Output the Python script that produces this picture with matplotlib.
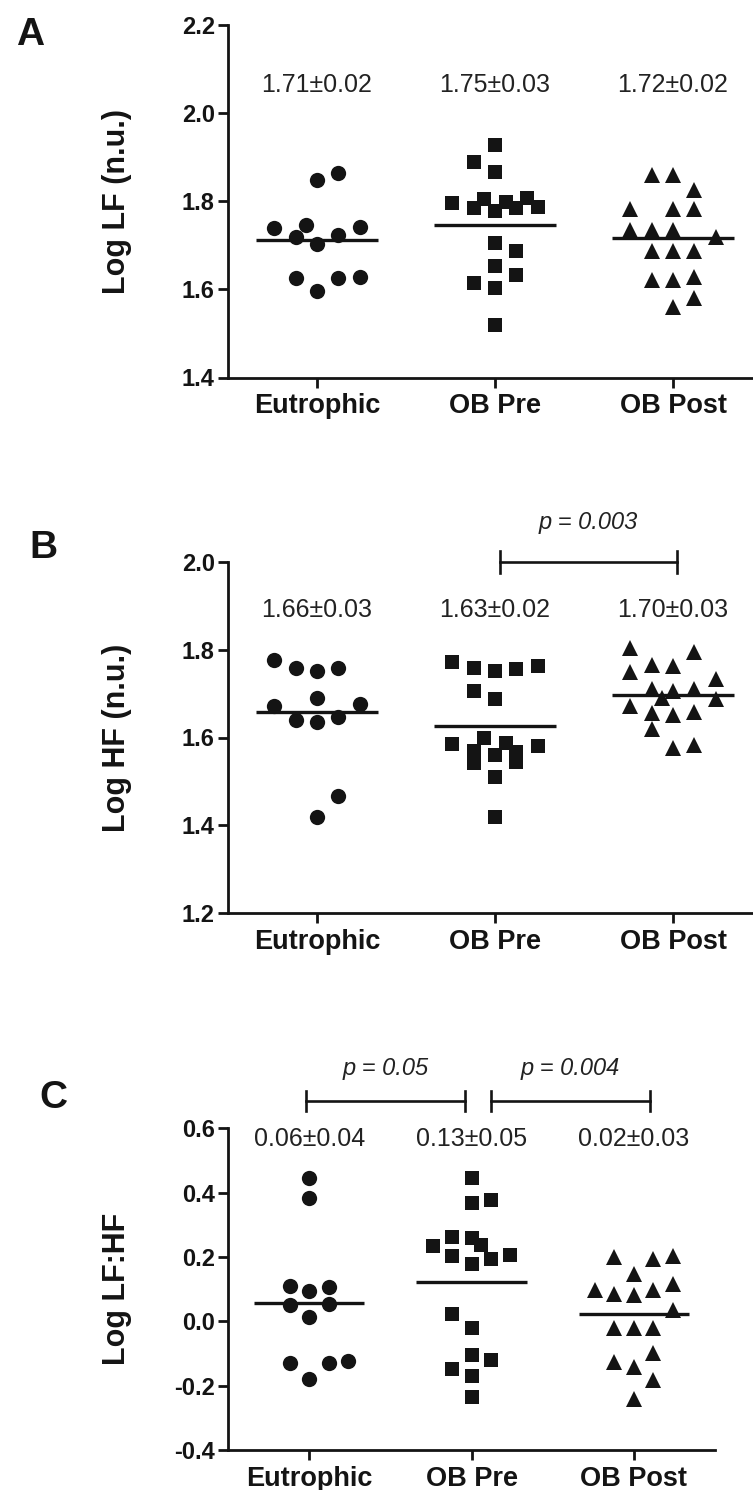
import numpy as np
import matplotlib
matplotlib.use("Agg")
import matplotlib.pyplot as plt

plt.rcParams['font.family'] = ['Liberation Sans', 'DejaVu Sans']

groups = ["Eutrophic", "OB Pre", "OB Post"]
markers = ["o", "s", "^"]

# Panel A : Log LF (n.u.)
lf_eut = [1.848, 1.863, 1.739, 1.745, 1.742, 1.720, 1.724, 1.702, 1.625, 1.625, 1.627, 1.597]
lf_eut_dx = [0, 0.12, -0.24, -0.06, 0.24, -0.12, 0.12, 0, -0.12, 0.12, 0.24, 0]
lf_pre = [1.928, 1.890, 1.867, 1.797, 1.785, 1.805, 1.778, 1.799, 1.785, 1.807, 1.788,
          1.705, 1.686, 1.654, 1.633, 1.615, 1.603, 1.519]
lf_pre_dx = [0, -0.12, 0, -0.24, -0.12, -0.06, 0, 0.06, 0.12, 0.18, 0.24,
             0, 0.12, 0, 0.12, -0.12, 0, 0]
lf_post = [1.860, 1.860, 1.826, 1.783, 1.783, 1.783, 1.735, 1.735, 1.735, 1.720,
           1.686, 1.686, 1.686, 1.622, 1.622, 1.629, 1.580, 1.561]
lf_post_dx = [-0.12, 0, 0.12, -0.24, 0, 0.12, -0.24, -0.12, 0, 0.24,
              -0.12, 0, 0.12, -0.12, 0, 0.12, 0.12, 0]
lf_labels = ["1.71\u00b10.02", "1.75\u00b10.03", "1.72\u00b10.02"]

# Panel B : Log HF (n.u.)
hf_eut = [1.776, 1.757, 1.751, 1.759, 1.691, 1.672, 1.676, 1.640, 1.636, 1.647, 1.467, 1.420]
hf_eut_dx = [-0.24, -0.12, 0, 0.12, 0, -0.24, 0.24, -0.12, 0, 0.12, 0.12, 0]
hf_pre = [1.772, 1.757, 1.752, 1.756, 1.763, 1.706, 1.687, 1.585, 1.598, 1.588, 1.581,
          1.569, 1.541, 1.560, 1.568, 1.545, 1.509, 1.420]
hf_pre_dx = [-0.24, -0.12, 0, 0.12, 0.24, -0.12, 0, -0.24, -0.06, 0.06, 0.24,
             -0.12, -0.12, 0, 0.12, 0.12, 0, 0]
hf_post = [1.803, 1.795, 1.765, 1.763, 1.750, 1.733, 1.710, 1.706, 1.710, 1.689,
           1.687, 1.672, 1.655, 1.651, 1.659, 1.619, 1.575, 1.583]
hf_post_dx = [-0.24, 0.12, -0.12, 0, -0.24, 0.24, -0.12, 0, 0.12, -0.06,
              0.24, -0.24, -0.12, 0, 0.12, -0.12, 0, 0.12]
hf_labels = ["1.66\u00b10.03", "1.63\u00b10.02", "1.70\u00b10.03"]

# Panel C : Log LF:HF
ratio_eut = [0.447, 0.383, 0.109, 0.094, 0.107, 0.050, 0.053, 0.013, -0.131, -0.178, -0.131, -0.123]
ratio_eut_dx = [0, 0, -0.12, 0, 0.12, -0.12, 0.12, 0, -0.12, 0, 0.12, 0.24]
ratio_pre = [0.447, 0.369, 0.378, 0.233, 0.262, 0.260, 0.236, 0.202, 0.179, 0.195, 0.205,
             0.022, -0.020, -0.106, -0.121, -0.147, -0.171, -0.235]
ratio_pre_dx = [0, 0, 0.12, -0.24, -0.12, 0, 0.06, -0.12, 0, 0.12, 0.24,
                -0.12, 0, 0, 0.12, -0.12, 0, 0]
ratio_post = [0.200, 0.195, 0.202, 0.146, 0.096, 0.086, 0.081, 0.096, 0.117, 0.036,
              -0.021, -0.021, -0.021, -0.099, -0.126, -0.142, -0.183, -0.240]
ratio_post_dx = [-0.12, 0.12, 0.24, 0, -0.24, -0.12, 0, 0.12, 0.24, 0.24,
                 -0.12, 0, 0.12, 0.12, -0.12, 0, 0.12, 0]
ratio_labels = ["0.06\u00b10.04", "0.13\u00b10.05", "0.02\u00b10.03"]

INK = "#141414"
W, H = 753, 1490
fig = plt.figure(figsize=(W / 100, H / 100), dpi=100)


def px_axes(left, right, top, bottom):
    return fig.add_axes([left / W, 1 - bottom / H, (right - left) / W, (bottom - top) / H])


def style_axis(ax, ylim, yticks, ylabel, label_x):
    ax.set_xlim(0.5, 3.5)
    ax.set_ylim(*ylim)
    ax.set_yticks(yticks)
    ax.set_yticklabels([f"{t:.1f}" for t in yticks], fontsize=17, fontweight="bold")
    ax.set_xticks([1, 2, 3])
    ax.set_xticklabels(groups, fontsize=19.5, fontweight="bold")
    for s in ("top", "right"):
        ax.spines[s].set_visible(False)
    for s in ("left", "bottom"):
        ax.spines[s].set_linewidth(2.0)
        ax.spines[s].set_color(INK)
    ax.tick_params(axis="both", direction="out", length=7.5, width=2.0, colors=INK)
    ax.tick_params(axis="y", pad=2)
    ax.tick_params(axis="x", pad=4)
    ax.set_ylabel(ylabel, fontsize=22, fontweight="bold", color=INK)
    ax.yaxis.set_label_coords(label_x, 0.5)
    ax.patch.set_alpha(0)


def draw_groups(ax, values, offsets, labels, label_y):
    sizes = {"o": 11, "s": 10, "^": 12}
    for i, (vals, dx, mk) in enumerate(zip(values, offsets, markers)):
        x = i + 1 + np.array(dx)
        ax.plot(x, vals, linestyle="none", marker=mk, markersize=sizes[mk],
                color=INK, markeredgewidth=0, clip_on=False)
        ax.hlines(np.mean(vals), i + 1 - 0.34, i + 1 + 0.34, color=INK, lw=2.4)
        ax.text(i + 1, label_y, labels[i], ha="center", va="center",
                fontsize=18, color="#222222")


def bracket(ax, x0, x1, y, cap, text, ty):
    ax.plot([x0, x1], [y, y], color=INK, lw=1.9, clip_on=False)
    ax.plot([x0, x0], [y - cap, y + cap], color=INK, lw=1.9, clip_on=False)
    ax.plot([x1, x1], [y - cap, y + cap], color=INK, lw=1.9, clip_on=False)
    ax.text((x0 + x1) / 2, ty, text, ha="center", va="center",
            fontsize=17, style="italic", color="#222222", clip_on=False)


# A
axA = px_axes(228, 762, 25, 377.5)
style_axis(axA, (1.4, 2.2), [1.4, 1.6, 1.8, 2.0, 2.2], "Log LF (n.u.)", -0.18)
draw_groups(axA, [lf_eut, lf_pre, lf_post], [lf_eut_dx, lf_pre_dx, lf_post_dx], lf_labels, 2.064)

# B
axB = px_axes(228, 762, 561.7, 913.3)
style_axis(axB, (1.2, 2.0), [1.2, 1.4, 1.6, 1.8, 2.0], "Log HF (n.u.)", -0.18)
draw_groups(axB, [hf_eut, hf_pre, hf_post], [hf_eut_dx, hf_pre_dx, hf_post_dx], hf_labels, 1.89)
bracket(axB, 2.03, 3.02, 2.0, 0.025, "p = 0.003", 2.089)

# C
axC = px_axes(228, 715, 1128.3, 1450)
style_axis(axC, (-0.4, 0.6), [-0.4, -0.2, 0.0, 0.2, 0.4, 0.6], "Log LF:HF", -0.197)
draw_groups(axC, [ratio_eut, ratio_pre, ratio_post],
            [ratio_eut_dx, ratio_pre_dx, ratio_post_dx], ratio_labels, 0.566)
bracket(axC, 0.98, 1.96, 0.685, 0.031, "p = 0.05", 0.785)
bracket(axC, 2.12, 3.10, 0.685, 0.031, "p = 0.004", 0.785)

for letter, (lx, ly) in zip("ABC", [(30, 35), (43, 548), (53, 1098)]):
    fig.text(lx / W, 1 - ly / H, letter, fontsize=28, fontweight="bold",
             ha="center", va="center", color=INK)

fig.savefig("out.png", dpi=100, facecolor="white")
